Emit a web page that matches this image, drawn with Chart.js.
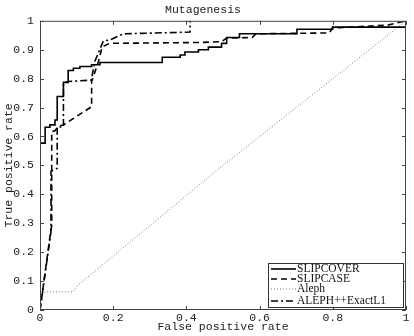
<!DOCTYPE html>
<html>
<head>
<meta charset="utf-8">
<script src="https://cdn.jsdelivr.net/npm/chart.js@4"></script>
<style>
  html, body { margin: 0; padding: 0; background: #fff; }
  #wrap { width: 414px; height: 336px; }
</style>
</head>
<body>
<div id="wrap"><canvas id="chart"></canvas></div>
<script>
// ROC curves (false positive rate / true positive rate)
const slipcoverFpr = [0, 0, 0.014, 0.027, 0.041, 0.047, 0.064, 0.077, 0.091, 0.109, 0.141, 0.164, 0.334, 0.383, 0.396, 0.433, 0.46, 0.496, 0.51, 0.545, 0.702, 0.799, 1];
const slipcoverTpr = [0, 0.577, 0.632, 0.64, 0.657, 0.738, 0.787, 0.828, 0.836, 0.842, 0.848, 0.856, 0.874, 0.882, 0.892, 0.9, 0.909, 0.922, 0.942, 0.955, 0.971, 0.978, 1];

const slipcaseFpr = [0, 0.03, 0.032, 0.032, 0.041, 0.05, 0.064, 0.141, 0.141, 0.16, 0.17, 0.19, 0.437, 0.496, 0.51, 0.58, 0.59, 0.79, 0.8, 0.95, 1];
const slipcaseTpr = [0, 0.28, 0.29, 0.617, 0.62, 0.635, 0.64, 0.703, 0.79, 0.86, 0.91, 0.922, 0.925, 0.928, 0.94, 0.942, 0.955, 0.958, 0.975, 0.985, 1];

const alephFpr = [0, 0.009, 0.02, 0.091, 0.1, 0.49, 1];
const alephTpr = [0, 0.058, 0.063, 0.063, 0.082, 0.49, 1];

const alephExactFpr = [0, 0.03, 0.03, 0.047, 0.047, 0.064, 0.064, 0.077, 0.14, 0.15, 0.173, 0.191, 0.228, 0.41, 0.41];
const alephExactTpr = [0, 0.27, 0.48, 0.49, 0.633, 0.633, 0.785, 0.79, 0.795, 0.86, 0.93, 0.934, 0.955, 0.961, 1];

const seriesNames = ['SLIPCOVER', 'SLIPCASE', 'Aleph', 'ALEPH++ExactL1'];
const xTicks = [0, 0.2, 0.4, 0.6, 0.8, 1];
const yTicks = [0, 0.1, 0.2, 0.3, 0.4, 0.5, 0.6, 0.7, 0.8, 0.9, 1];

const pts = (xs, ys) => xs.map((x, i) => ({ x: x, y: ys[i] }));
const mono = 'Liberation Mono';
const ink = '#222';

// matlab style box, inward ticks on all four sides
const boxTicks = {
  id: 'boxTicks',
  afterDatasetsDraw(chart) {
    const { ctx, chartArea: a, scales } = chart;
    ctx.save();
    ctx.strokeStyle = '#444';
    ctx.lineWidth = 1;
    ctx.strokeRect(a.left + 0.5, a.top + 0.5, a.right - a.left - 1, a.bottom - a.top - 1);
    ctx.beginPath();
    xTicks.forEach((v) => {
      const px = Math.round(scales.x.getPixelForValue(v)) + 0.5;
      ctx.moveTo(px, a.bottom); ctx.lineTo(px, a.bottom - 4);
      ctx.moveTo(px, a.top); ctx.lineTo(px, a.top + 4);
    });
    yTicks.forEach((v) => {
      const py = Math.round(scales.y.getPixelForValue(v)) + 0.5;
      ctx.moveTo(a.left, py); ctx.lineTo(a.left + 4, py);
      ctx.moveTo(a.right, py); ctx.lineTo(a.right - 4, py);
    });
    ctx.stroke();
    ctx.restore();
  }
};

// legend box in the lower right corner
const cornerLegend = {
  id: 'cornerLegend',
  afterDraw(chart) {
    const { ctx, chartArea: a } = chart;
    const w = 135, h = 44, rowH = 10;
    const left = a.right - 3 - w, top = a.bottom - 3 - h;
    ctx.save();
    ctx.fillStyle = '#fff';
    ctx.fillRect(left, top, w, h);
    ctx.strokeStyle = '#333';
    ctx.lineWidth = 1;
    ctx.strokeRect(left + 0.5, top + 0.5, w, h);
    ctx.font = '11.5px "Liberation Serif"';
    ctx.textBaseline = 'middle';
    chart.data.datasets.forEach((ds, i) => {
      const y = top + 6 + i * rowH + (i === 3 ? 2 : 0);
      ctx.strokeStyle = ds.borderColor;
      ctx.lineWidth = ds.borderWidth;
      ctx.setLineDash(ds.borderDash || []);
      ctx.beginPath();
      ctx.moveTo(left + 3, y);
      ctx.lineTo(left + 28, y);
      ctx.stroke();
      ctx.setLineDash([]);
      ctx.fillStyle = '#111';
      ctx.fillText(ds.label, left + 29, y);
    });
    ctx.restore();
  }
};

new Chart(document.getElementById('chart'), {
  type: 'line',
  data: {
    datasets: [
      { label: seriesNames[0], data: pts(slipcoverFpr, slipcoverTpr), borderColor: '#000', borderWidth: 1.6, stepped: true },
      { label: seriesNames[1], data: pts(slipcaseFpr, slipcaseTpr), borderColor: '#000', borderWidth: 1.6, borderDash: [6, 4] },
      { label: seriesNames[2], data: pts(alephFpr, alephTpr), borderColor: '#777', borderWidth: 1, borderDash: [1, 2] },
      { label: seriesNames[3], data: pts(alephExactFpr, alephExactTpr), borderColor: '#000', borderWidth: 1.6, borderDash: [7, 3, 2, 3] },
    ],
  },
  options: {
    responsive: true,
    maintainAspectRatio: false,
    animation: false,
    layout: { padding: { left: 0, right: 8, top: 0, bottom: 0 } },
    elements: { point: { radius: 0 }, line: { tension: 0, fill: false } },
    plugins: {
      legend: { display: false },
      tooltip: { enabled: false },
      title: {
        display: true,
        text: 'Mutagenesis',
        color: ink,
        font: { family: mono, size: 11.5, weight: 'normal' },
        padding: { top: 3, bottom: 4 },
      },
    },
    scales: {
      x: {
        type: 'linear',
        min: 0,
        max: 1,
        afterFit: (s) => { s.height = 26; },
        afterBuildTicks: (s) => { s.ticks = xTicks.map((v) => ({ value: v })); },
        grid: { display: false, drawTicks: false, tickLength: 0 },
        border: { display: false },
        ticks: {
          color: ink,
          padding: 1,
          maxRotation: 0,
          font: { family: mono, size: 11.5 },
          callback: (v) => String(Number(v.toFixed(1))),
        },
        title: {
          display: true,
          text: 'False positive rate',
          color: ink,
          font: { family: mono, size: 11.5 },
          padding: { top: 0, bottom: 2 },
        },
      },
      y: {
        type: 'linear',
        min: 0,
        max: 1,
        afterFit: (s) => { s.width = 40; },
        afterBuildTicks: (s) => { s.ticks = yTicks.map((v) => ({ value: v })); },
        grid: { display: false, drawTicks: false, tickLength: 0 },
        border: { display: false },
        ticks: {
          color: ink,
          padding: 6,
          font: { family: mono, size: 11.5 },
          callback: (v) => String(Number(v.toFixed(1))),
        },
        title: {
          display: true,
          text: 'True positive rate',
          color: ink,
          font: { family: mono, size: 11.5 },
          padding: { top: 2, bottom: 0 },
        },
      },
    },
  },
  plugins: [boxTicks, cornerLegend],
});
</script>
</body>
</html>
